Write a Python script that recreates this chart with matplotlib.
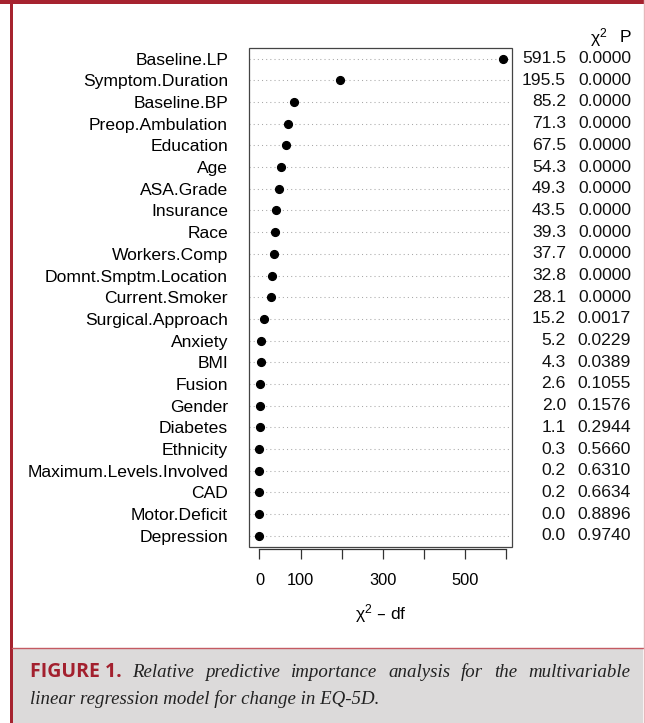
import matplotlib
matplotlib.use("Agg")
import matplotlib.pyplot as plt
import matplotlib.transforms as mtransforms
from matplotlib.patches import Rectangle

# predictors, top to bottom as drawn
NAMES = [
    "Baseline.LP", "Symptom.Duration", "Baseline.BP", "Preop.Ambulation",
    "Education", "Age", "ASA.Grade", "Insurance", "Race", "Workers.Comp",
    "Domnt.Smptm.Location", "Current.Smoker", "Surgical.Approach", "Anxiety",
    "BMI", "Fusion", "Gender", "Diabetes", "Ethnicity",
    "Maximum.Levels.Involved", "CAD", "Motor.Deficit", "Depression",
]
CHI2 = [591.5, 195.5, 85.2, 71.3, 67.5, 54.3, 49.3, 43.5, 39.3, 37.7, 32.8,
        28.1, 15.2, 5.2, 4.3, 2.6, 2.0, 1.1, 0.3, 0.2, 0.2, 0.0, 0.0]
PVAL = [0.0, 0.0, 0.0, 0.0, 0.0, 0.0, 0.0, 0.0, 0.0, 0.0, 0.0, 0.0, 0.0017,
        0.0229, 0.0389, 0.1055, 0.1576, 0.2944, 0.5660, 0.6310, 0.6634,
        0.8896, 0.9740]
# chi-square minus df (x position of the dots)
CHI2_DF = [590.5, 194.5, 84.2, 70.3, 63.5, 53.3, 48.3, 39.5, 37.3, 35.7, 30.8,
           27.1, 11.2, 4.2, 3.3, 1.6, 1.0, 0.1, -0.7, -0.8, -0.8, -1.0, -1.0]
XTICKS = [0, 100, 200, 300, 400, 500, 600]
XTICKLABELS = ["0", "100", "", "300", "", "500", ""]

CAPTION_HEAD = "FIGURE 1."
CAPTION_LINE1 = "Relative predictive importance analysis for the multivariable"
CAPTION_LINE2 = "linear regression model for change in EQ-5D."

W, H = 645, 723
RED = "#a6232f"
plt.rcParams["font.family"] = ["Liberation Sans", "DejaVu Sans"]
FS = 12.6
CHI = r"$\mathregular{χ^2}$"


def fx(px):
    return px / W


def fy(py):
    return 1 - py / H


def main():
    fig = plt.figure(figsize=(W / 100, H / 100), dpi=100)
    fig.patch.set_facecolor("white")

    # frame + caption panel
    fig.add_artist(Rectangle((fx(12), 0), fx(643) - fx(12), fy(648), transform=fig.transFigure,
                             facecolor="#dcdada", edgecolor="none", zorder=0))
    fig.add_artist(plt.Line2D([fx(12), fx(643)], [fy(648), fy(648)], transform=fig.transFigure,
                              color="#c45a62", lw=1.0))
    fig.add_artist(Rectangle((0, fy(4)), 1, fy(0) - fy(4), transform=fig.transFigure,
                             facecolor=RED, edgecolor="none"))
    fig.add_artist(Rectangle((fx(10), 0), fx(12.7) - fx(10), fy(0), transform=fig.transFigure,
                             facecolor=RED, edgecolor="none"))
    fig.add_artist(plt.Line2D([fx(643.5), fx(643.5)], [0, 1], transform=fig.transFigure,
                              color="#e8b5ba", lw=1.0))

    left, right, top, bottom = 249.3, 512.3, 47.7, 546.7
    ax = fig.add_axes([fx(left), fy(bottom), fx(right) - fx(left), (bottom - top) / H])
    n = len(NAMES)
    ys = [n - i for i in range(n)]

    for y in ys:
        ax.axhline(y, color="#a8a8a8", lw=0.75, linestyle=(0, (1, 3)), zorder=1)
    ax.plot(CHI2_DF, ys, "o", color="black", markersize=5.6, zorder=3)

    ax.set_xlim(-24.7, 614.2)
    ax.set_ylim(0.5, n + 0.5)
    ax.set_yticks(ys)
    ax.set_yticklabels(NAMES)
    ax.tick_params(axis="y", length=0, pad=15.3, labelsize=FS)
    ax.set_xticks(XTICKS)
    ax.set_xticklabels(XTICKLABELS)
    ax.tick_params(axis="x", length=7.2, width=0.9, pad=10, color="#333333",
                   labelsize=11.8)

    for s in ["top", "left", "right"]:
        ax.spines[s].set_visible(False)
    ax.spines["bottom"].set_position(("outward", 2))
    ax.spines["bottom"].set_bounds(0, 600)
    ax.spines["bottom"].set_linewidth(0.9)
    ax.spines["bottom"].set_color("#333333")
    ax.add_patch(Rectangle((0, 0), 1, 1, transform=ax.transAxes, fill=False,
                           edgecolor="#444444", lw=0.9, clip_on=False, zorder=4))

    # statistics columns on the right
    tr = mtransforms.blended_transform_factory(fig.transFigure, ax.transData)
    for y, c, p in zip(ys, CHI2, PVAL):
        ax.text(fx(566), y, f"{c:.1f}", transform=tr, ha="right", va="center",
                fontsize=FS, color="#111111")
        ax.text(fx(631), y, f"{p:.4f}", transform=tr, ha="right", va="center",
                fontsize=FS, color="#111111")
    fig.text(fx(607), fy(38), CHI, ha="right", va="center", fontsize=FS)
    fig.text(fx(631), fy(38), "P", ha="right", va="center", fontsize=FS)

    fig.text(fx(380.8), fy(614), CHI + " – df", ha="center", va="center", fontsize=FS)

    # caption, first line justified
    fig.canvas.draw()
    renderer = fig.canvas.get_renderer()
    cap_x0, cap_x1 = 30, 630
    serif = dict(family=["Liberation Serif", "DejaVu Serif"], style="italic",
                 fontsize=13.6, color="#222222")
    head = fig.text(fx(cap_x0), fy(677), CAPTION_HEAD, ha="left", va="baseline",
                    family=["Open Sans", "DejaVu Sans"], weight="bold", fontsize=14,
                    color="#a3202e")
    words = CAPTION_LINE1.split()
    arts = [head] + [fig.text(0, fy(677), w, ha="left", va="baseline", **serif) for w in words]
    widths = [a.get_window_extent(renderer).width for a in arts]
    gap = (cap_x1 - cap_x0 - sum(widths)) / (len(arts) - 1)
    x = cap_x0
    for a, w in zip(arts, widths):
        a.set_x(fx(x))
        x += w + gap
    fig.text(fx(cap_x0), fy(704), CAPTION_LINE2, ha="left", va="baseline", **serif)

    fig.savefig("out.png", dpi=100)
    plt.close(fig)


if __name__ == "__main__":
    main()
